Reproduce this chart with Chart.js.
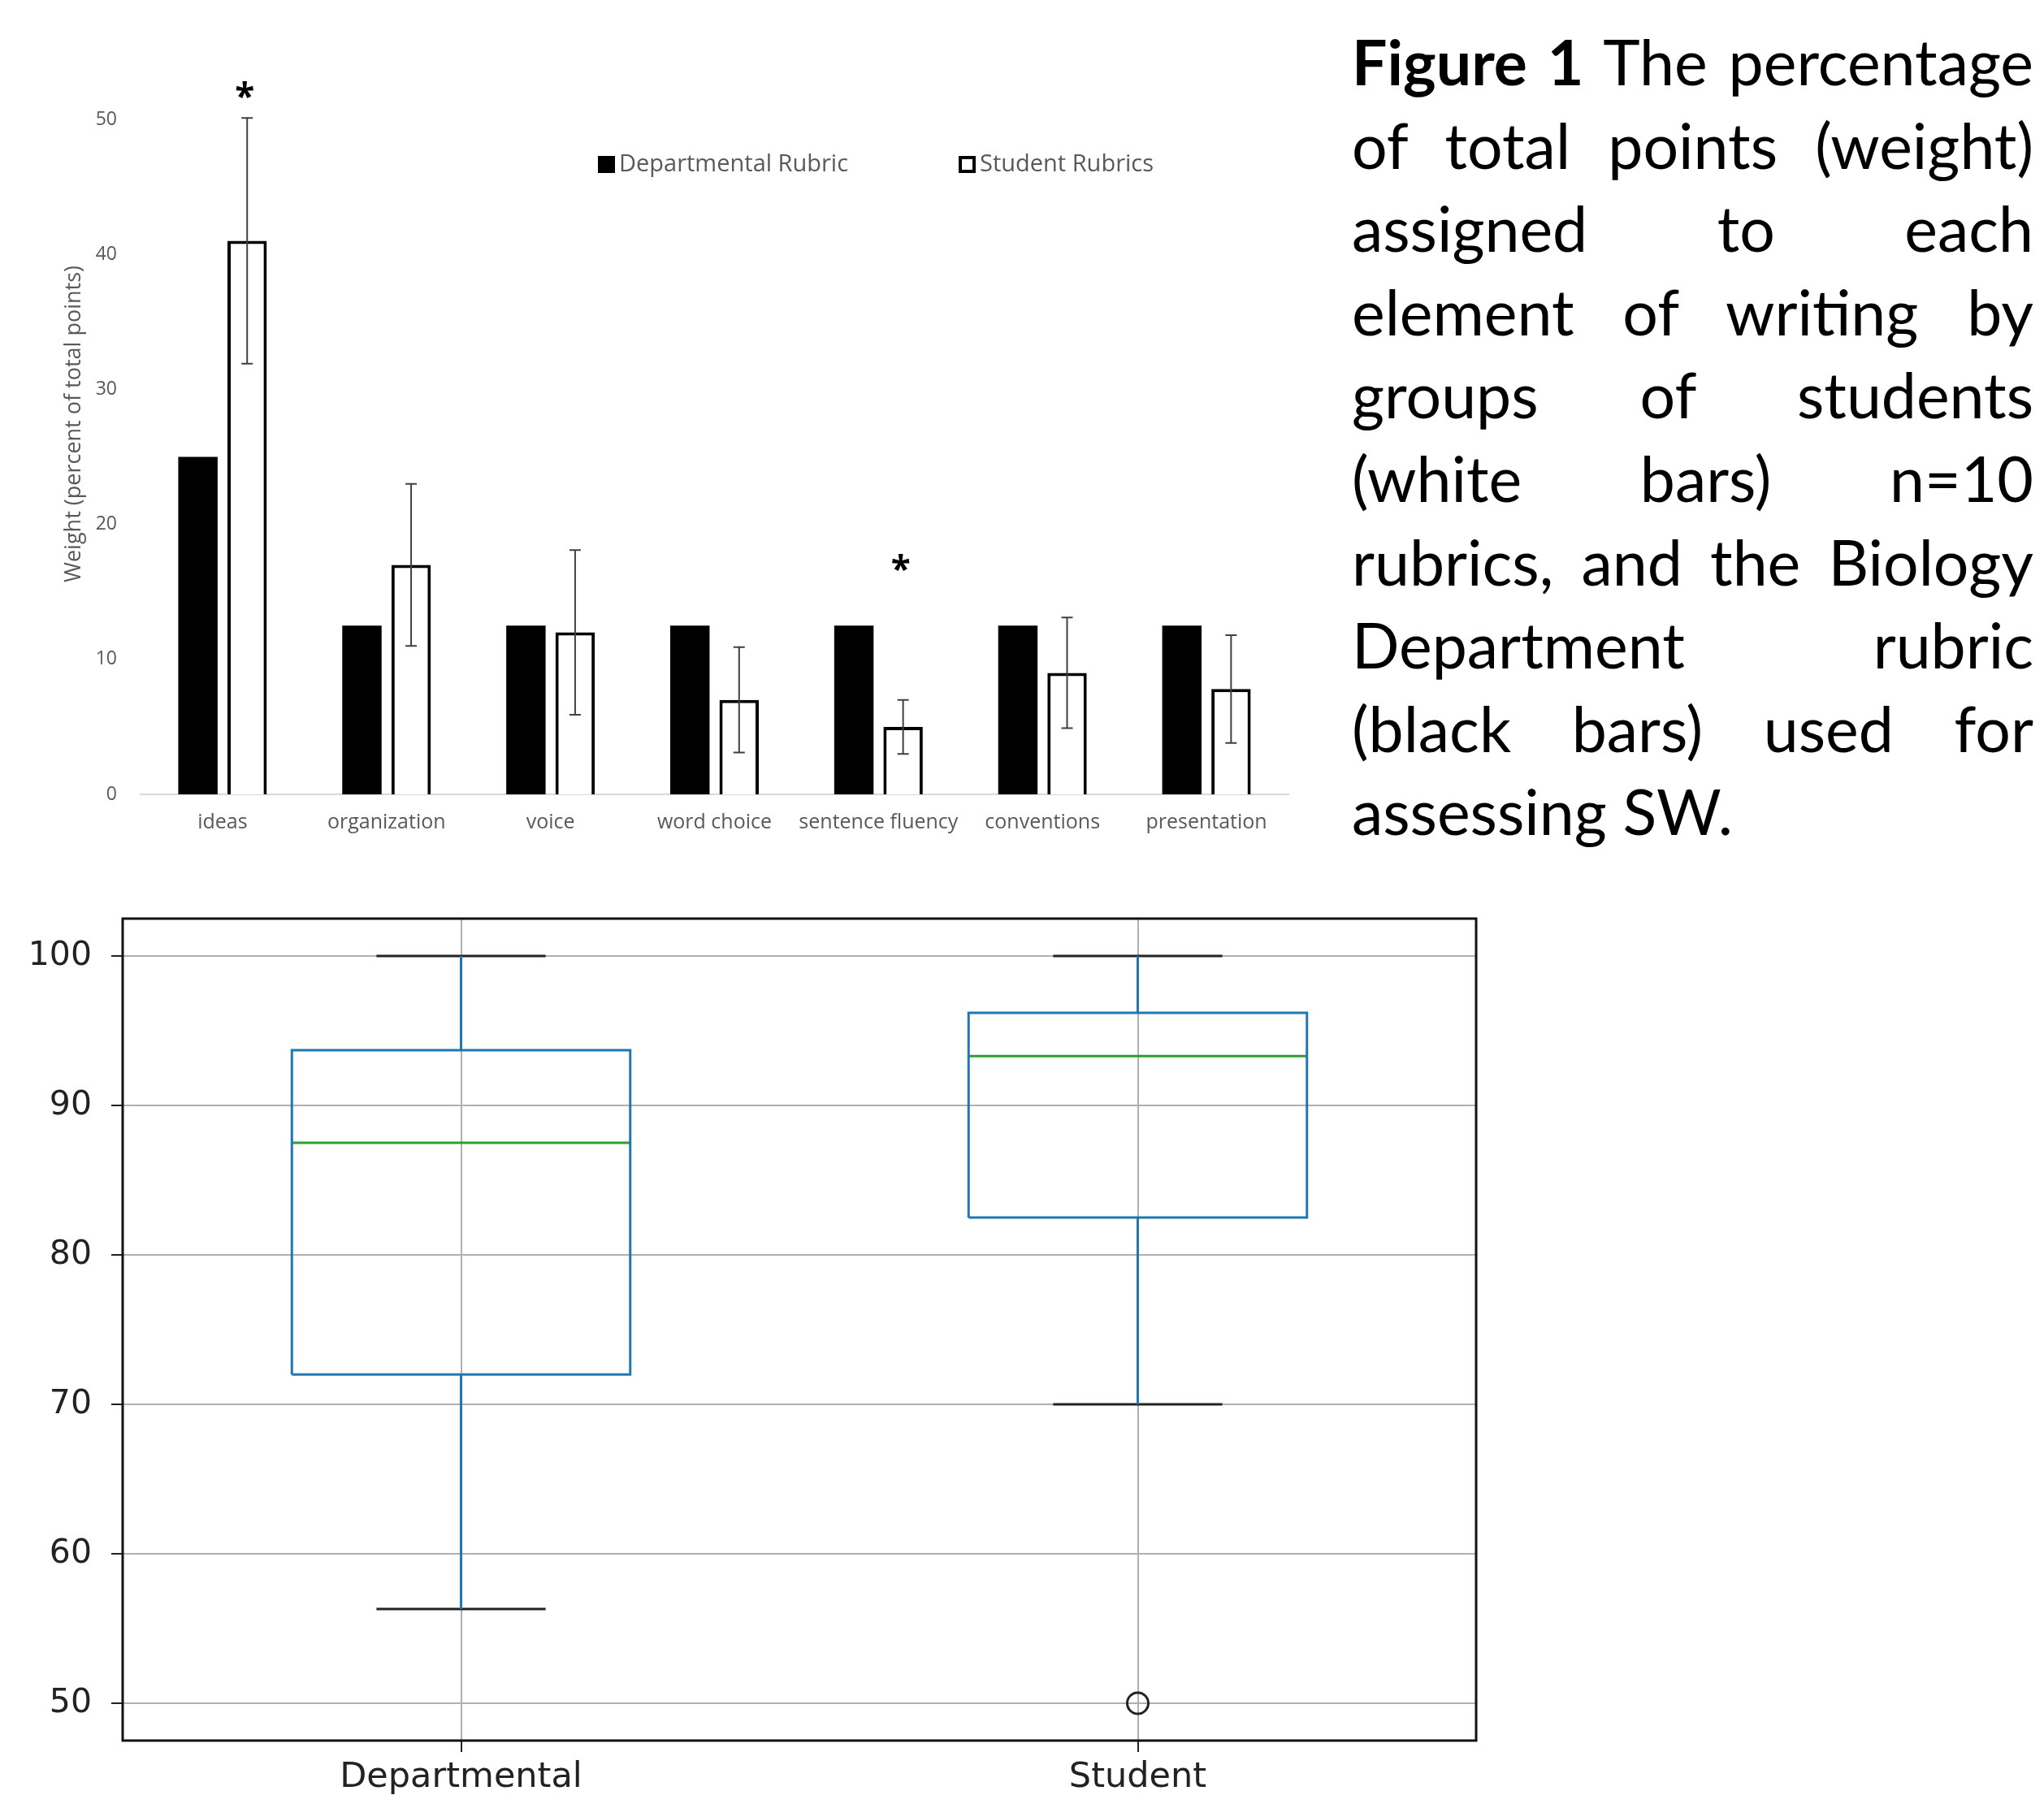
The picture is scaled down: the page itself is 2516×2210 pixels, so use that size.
<!DOCTYPE html>
<html>
<head>
<meta charset="utf-8">
<script src="https://cdn.jsdelivr.net/npm/chart.js@4.4.1/dist/chart.umd.min.js"></script>
<style>
  body { margin: 0; background: #fff; }
  #page { position: relative; width: 2516px; height: 2210px; background: #fff; }
  #barChart { position: absolute; left: 0; top: 0; }
  #boxChart { position: absolute; left: 0; top: 1090px; }
  #caption {
    position: absolute; left: 1664px; top: 24px; width: 839px;
    font-family: Lato, "Open Sans", sans-serif; font-size: 77px; line-height: 102.6px; color: #000;
  }
  #caption div { text-align: justify; text-align-last: justify; white-space: nowrap; }
  #caption div.last { text-align-last: left; }
</style>
</head>
<body>
<div id="page">
  <canvas id="barChart" width="1640" height="1060"></canvas>
  <canvas id="boxChart" width="1870" height="1120"></canvas>
  <div id="caption">
    <div><b>Figure 1</b> The percentage</div>
    <div>of total points (weight)</div>
    <div>assigned to each</div>
    <div>element of writing by</div>
    <div>groups of students</div>
    <div>(white bars) n=10</div>
    <div>rubrics, and the Biology</div>
    <div>Department rubric</div>
    <div>(black bars) used for</div>
    <div class="last">assessing SW.</div>
  </div>
</div>
<script>
// top chart: weight of each element of writing
const categories = ['ideas', 'organization', 'voice', 'word choice', 'sentence fluency', 'conventions', 'presentation'];
const departmental = [25, 12.5, 12.5, 12.5, 12.5, 12.5, 12.5];
const student = [41, 17, 12, 7, 5, 9, 7.8];
const studentSd = [9.1, 6, 6.1, 3.9, 2, 4.1, 4];
const starAt = [52, null, null, null, 17, null, null]; // where the * sits (weight units)
const weightTicks = [0, 10, 20, 30, 40, 50];
const weightTitle = 'Weight (percent of total points)';

// bottom chart: score distributions
const boxCategories = ['Departmental', 'Student'];
const boxLow = [56.3, 70];
const boxQ1 = [72, 82.5];
const boxMedian = [87.5, 93.3];
const boxQ3 = [93.7, 96.2];
const boxHigh = [100, 100];
const boxOutliers = [[], [50]];
const scoreTicks = [50, 60, 70, 80, 90, 100];

const sans = '"Open Sans", sans-serif';

// error bars + asterisks on the student bars
const errorBars = {
  id: 'errorBars',
  afterDatasetsDraw(chart) {
    const ctx = chart.ctx;
    const y = chart.scales.y;
    const meta = chart.getDatasetMeta(1);
    ctx.save();
    ctx.strokeStyle = '#404040';
    ctx.lineWidth = 2;
    meta.data.forEach((bar, i) => {
      const top = y.getPixelForValue(student[i] + studentSd[i]);
      const bot = y.getPixelForValue(student[i] - studentSd[i]);
      ctx.beginPath();
      ctx.moveTo(bar.x, top); ctx.lineTo(bar.x, bot);
      ctx.moveTo(bar.x - 7, top); ctx.lineTo(bar.x + 7, top);
      ctx.moveTo(bar.x - 7, bot); ctx.lineTo(bar.x + 7, bot);
      ctx.stroke();
      if (starAt[i] != null) {
        ctx.fillStyle = '#000';
        ctx.font = 'bold 44px ' + sans;
        ctx.textAlign = 'center';
        ctx.textBaseline = 'middle';
        ctx.fillText('*', bar.x - 3, y.getPixelForValue(starAt[i]) + 8);
      }
    });
    ctx.restore();
  }
};

// legend and axis title placed like the original (not centred on the plot)
const barLegend = {
  id: 'barLegend',
  afterDraw(chart) {
    const ctx = chart.ctx;
    const items = [[736, 0], [1180, 1]];
    ctx.save();
    ctx.font = '29px ' + sans;
    ctx.textBaseline = 'middle';
    items.forEach(([x, di]) => {
      const ds = chart.data.datasets[di];
      ctx.fillStyle = ds.backgroundColor;
      ctx.fillRect(x, 192, 21, 21);
      if (ds.borderWidth) {
        ctx.strokeStyle = '#000';
        ctx.lineWidth = 4;
        ctx.strokeRect(x + 2, 194, 17, 17);
      }
      ctx.fillStyle = '#595959';
      ctx.fillText(ds.label, x + 26, 203);
    });
    ctx.translate(91, 522);
    ctx.rotate(-Math.PI / 2);
    ctx.font = '27px ' + sans;
    ctx.textAlign = 'center';
    ctx.fillText(weightTitle, 0, 0);
    ctx.restore();
  }
};

new Chart(document.getElementById('barChart'), {
  type: 'bar',
  data: {
    labels: categories,
    datasets: [
      { label: 'Departmental Rubric', data: departmental, backgroundColor: '#000', borderWidth: 0 },
      { label: 'Student Rubrics', data: student, backgroundColor: '#fff', borderColor: '#000', borderWidth: 4 }
    ]
  },
  options: {
    responsive: false,
    animation: false,
    layout: { padding: { left: 74, top: 147, right: 54, bottom: 0 } },
    datasets: { bar: { categoryPercentage: 0.6, barPercentage: 0.8 } },
    plugins: { legend: { display: false }, tooltip: { enabled: false } },
    scales: {
      x: {
        grid: { display: false, drawTicks: false },
        border: { display: true, color: '#d9d9d9', width: 2 },
        ticks: { color: '#595959', font: { family: sans, size: 25 }, padding: 20, maxRotation: 0 },
        afterFit: s => { s.height = 82; }
      },
      y: {
        min: 0, max: 50,
        afterBuildTicks: s => { s.ticks = weightTicks.map(v => ({ value: v })); },
        grid: { display: false, drawTicks: false },
        border: { display: false },
        ticks: { color: '#595959', font: { family: sans, size: 23 }, padding: 29 },
        afterFit: s => { s.width = 99; }
      }
    }
  },
  plugins: [errorBars, barLegend]
});

// box plot built from line segments on linear scales
const blue = '#1f77b4';
const boxSets = [];
const seg = (pts, color) => ({ data: pts, showLine: true, borderColor: color, borderWidth: 3, pointRadius: 0, fill: false, tension: 0 });
boxCategories.forEach((c, i) => {
  const x = i + 1, h = 0.25, cap = 0.125;
  boxSets.push(seg([{ x: x, y: boxQ3[i] }, { x: x, y: boxHigh[i] }], blue));
  boxSets.push(seg([{ x: x, y: boxQ1[i] }, { x: x, y: boxLow[i] }], blue));
  boxSets.push(seg([
    { x: x - h, y: boxQ1[i] }, { x: x + h, y: boxQ1[i] }, { x: x + h, y: boxQ3[i] },
    { x: x - h, y: boxQ3[i] }, { x: x - h, y: boxQ1[i] }], blue));
  boxSets.push(seg([{ x: x - h, y: boxMedian[i] }, { x: x + h, y: boxMedian[i] }], '#2ca02c'));
  boxSets.push(seg([{ x: x - cap, y: boxHigh[i] }, { x: x + cap, y: boxHigh[i] }], '#222'));
  boxSets.push(seg([{ x: x - cap, y: boxLow[i] }, { x: x + cap, y: boxLow[i] }], '#222'));
  if (boxOutliers[i].length) {
    boxSets.push({
      data: boxOutliers[i].map(v => ({ x: x, y: v })), showLine: false,
      pointStyle: 'circle', pointRadius: 13, pointBorderWidth: 3,
      pointBorderColor: '#222', pointBackgroundColor: 'rgba(0,0,0,0)'
    });
  }
});

const frame = {
  id: 'frame',
  afterDraw(chart) {
    const a = chart.chartArea, ctx = chart.ctx;
    ctx.save();
    ctx.strokeStyle = '#111';
    ctx.lineWidth = 3;
    ctx.strokeRect(a.left, a.top, a.right - a.left, a.bottom - a.top);
    ctx.restore();
  }
};

const dejavu = '"DejaVu Sans", sans-serif';
new Chart(document.getElementById('boxChart'), {
  type: 'scatter',
  data: { datasets: boxSets },
  options: {
    responsive: false,
    animation: false,
    layout: { padding: { left: 18, top: 41, right: 53, bottom: 0 } },
    plugins: { legend: { display: false }, tooltip: { enabled: false } },
    scales: {
      x: {
        type: 'linear', min: 0.5, max: 2.5,
        afterBuildTicks: s => { s.ticks = boxCategories.map((c, i) => ({ value: i + 1 })); },
        grid: { color: '#b0b0b0', lineWidth: 2, tickColor: '#222', tickLength: 14 },
        border: { display: false },
        ticks: { color: '#222', font: { family: dejavu, size: 43 }, padding: 6, callback: v => boxCategories[v - 1] },
        afterFit: s => { s.height = 67; }
      },
      y: {
        min: 47.5, max: 102.5,
        afterBuildTicks: s => { s.ticks = scoreTicks.map(v => ({ value: v })); },
        grid: { color: '#b0b0b0', lineWidth: 2, tickColor: '#222', tickLength: 14 },
        border: { display: false },
        ticks: { color: '#222', font: { family: dejavu, size: 41 }, padding: 24 },
        afterFit: s => { s.width = 133; s.paddingTop = 0; s.paddingBottom = 0; }
      }
    }
  },
  plugins: [frame]
});
</script>
</body>
</html>
